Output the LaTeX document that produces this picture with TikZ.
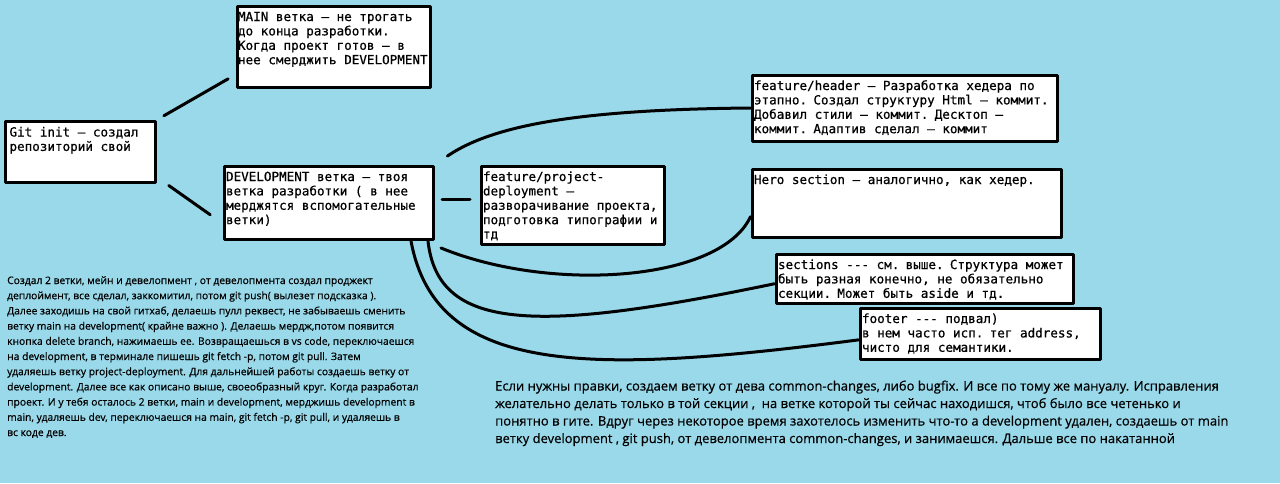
\documentclass[tikz,border=0pt]{standalone}
\usepackage{fontspec}
\setmonofont{DejaVu Sans Mono}[FakeBold=0.6]
\newfontfamily\handfont{Open Sans}[FakeBold=0.5]
\definecolor{paintblue}{RGB}{153,217,234}

\begin{document}
\begin{tikzpicture}[line cap=round,line join=round,x=1pt,y=1pt,
    card/.style={draw, line width=3pt, fill=white, anchor=north west, align=left, inner xsep=2pt, inner ysep=3pt, text height=12pt, font=\ttfamily\fontsize{12.6pt}{14.4pt}\selectfont, execute at begin node={\spaceskip=\fontdimen2\font\relax}},
    wire/.style={line width=3pt},
    memo/.style={anchor=base west, align=left, inner sep=0pt}]
                        \path[use as bounding box, fill=paintblue] (0,0) rectangle (1280,-483);

                        \node[card, inner xsep=4.5pt, text width=141pt, text depth=43pt] (git) at (3.5,-120) {Git init – создал\\репозиторий свой};
                        \node[card, inner xsep=1pt, text width=191pt, text depth=63pt] (main) at (235.5,-4.5) {MAIN ветка – не трогать\\до конца разработки.\\Когда проект готов – в\\нее смерджить DEVELOPMENT};
                        \node[card, text width=205.5pt, text depth=55.5pt] (dev) at (222.5,-164.5) {DEVELOPMENT ветка – твоя\\ветка разработки ( в нее\\мерджятся вспомогательные\\ветки)};
                        \node[card, text width=179pt, text depth=60pt] (deploy) at (479.5,-164.5) {feature/project-\\deployment –\\разворачивание проекта,\\подготовка типографии и\\тд};

                        \node[card, text width=301pt, text depth=48pt] (header) at (750.5,-73.5) {feature/header – Разработка хедера по\\этапно. Создал структуру Html – коммит.\\Добавил стили – коммит. Десктоп –\\коммит. Адаптив сделал – коммит};
                        \node[card, text width=305pt, text depth=50pt] (hero) at (750.5,-167.5) {Hero section – аналогично, как хедер.};
                        \node[card, text width=293pt, text depth=31pt] (sections) at (774.5,-252.5) {sections --- см. выше. Структура может\\быть разная конечно, не обязательно\\секции. Может быть aside и тд.};
                        \node[card, text width=236pt, text depth=33pt] (footer) at (858.5,-306.5) {footer --- подвал)\\в нем часто исп. тег address,\\чисто для семантики.};

                        \draw[wire, shorten <=8.5pt, shorten >=8.5pt] (git.north east) -- (main.196);
                        \draw[wire, shorten <=15pt, shorten >=15pt] (git.342) -- (dev.191);
                        \draw[wire, shorten <=7pt, shorten >=9.5pt] (dev.2) -- (dev.2 -| deploy.west);

                        \draw[wire, shorten <=15pt] (dev.north east) .. controls +(58,39.5) and +(-170.5,-1.5) .. (header.west);
                        \draw[wire] ([shift={(6,-7)}]dev.south east) .. controls +(110,-45) and +(-30,-65) .. (hero.185);
                        \draw[wire] ([xshift=-7pt]dev.south east) .. controls +(10,-90) and +(-240,-50) .. (sections.182);
                        \draw[wire] ([xshift=-24pt]dev.south east) .. controls +(25,-135) and +(-270,-35) .. (footer.183);

                        % base of these notes is their last line
                        \node[memo, font=\handfont\fontsize{10.3pt}{15.2pt}\selectfont] (howto) at (7,-436) {Создал 2 ветки, мейн и девелопмент , от девелопмента создал проджект\\деплоймент, все сделал, заккомитил, потом git push( вылезет подсказка ).\\Далее заходишь на свой гитхаб, делаешь пулл реквест, не забываешь сменить\\ветку main на development( крайне важно ). Делаешь мердж,потом появится\\кнопка delete branch, нажимаешь ее. Возвращаешься в vs code, переключаешся\\на development, в терминале пишешь git fetch -p, потом git pull. Затем\\удаляешь ветку project-deployment. Для дальнейшей работы создаешь ветку от\\development. Далее все как описано выше, своеобразный круг. Когда разработал\\проект. И у тебя осталось 2 ветки, main и development, мерджишь development в\\main, удаляешь dev, переключаешся на main, git fetch -p, git pull, и удаляешь в\\вс коде дев.};
                        \node[memo, font=\handfont\fontsize{13pt}{17.5pt}\selectfont] (fixes) at (495,-443) {Если нужны правки, создаем ветку от дева common-changes, либо bugfix. И все по тому же мануалу. Исправления\\желательно делать только в той секции ,\ \ на ветке которой ты сейчас находишся, чтоб было все четенько и\\понятно в гите. Вдруг через некоторое время захотелось изменить что-то а development удален, создаешь от main\\ветку development , git push, от девелопмента common-changes, и занимаешся. Дальше все по накатанной};
                    \end{tikzpicture}
\end{document}
